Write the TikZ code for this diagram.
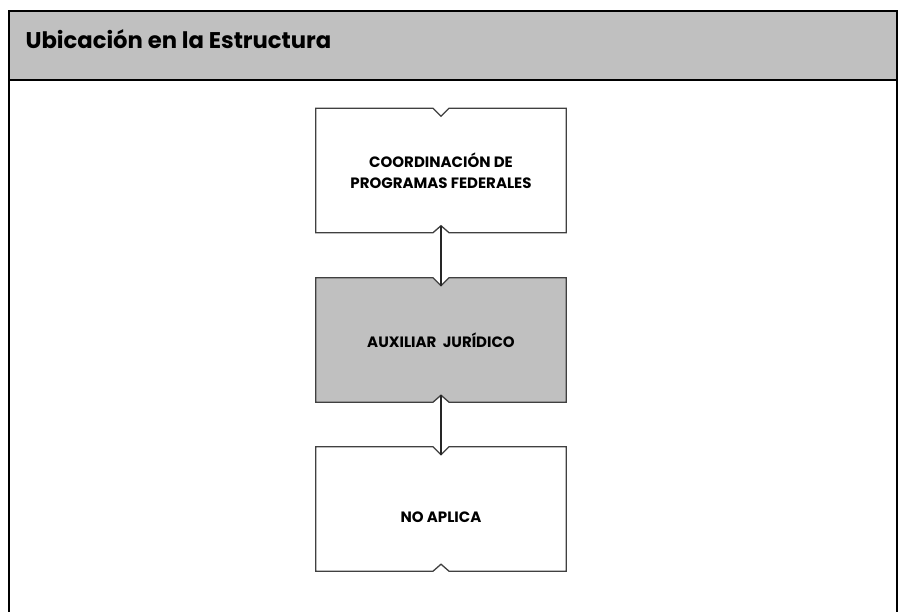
\documentclass[tikz,border=0pt]{standalone}
\usepackage{fontspec}
\setmainfont{Poppins}
\usepackage{tikz}

\definecolor{headgray}{HTML}{C0C0C0}
\definecolor{edgegray}{HTML}{404040}

\tikzset{
  box/.style={rectangle, minimum width=250pt, minimum height=124pt, inner sep=0pt,
    align=center, font=\fontsize{15}{21.5}\selectfont\bfseries},
  boxedge/.style={draw=edgegray, line width=1.3pt, line join=miter},
  link/.style={draw=black!85, line width=1.1pt}
}

% box outline with a notch on top and on bottom
\newcommand{\notchedbox}[2]{%
  \path[boxedge, fill=#2] (#1.north west) -- ([xshift=-8pt]#1.north)
    -- ([yshift=-8pt]#1.north) -- ([xshift=8pt]#1.north) -- (#1.north east)
    -- (#1.south east) -- ([xshift=8pt]#1.south) -- ([yshift=7pt]#1.south)
    -- ([xshift=-8pt]#1.south) -- (#1.south west) -- cycle;}

\begin{document}
\begin{tikzpicture}[x=1pt, y=-1pt]
  \useasboundingbox (0,0) rectangle (899,612);

  % frame and header
  \fill[headgray] (9,11) rectangle (897,80);
  \draw[line width=2pt] (9,80) -- (9,11) -- (897,11) -- (897,80);
  \draw[line width=2.5pt] (9,80) -- (897,80);
  \draw[line width=2.5pt] (9,80) -- (9,612);
  \draw[line width=1.5pt] (897,80) -- (897,612);
  \node[anchor=base west, font=\fontsize{22.7}{26}\selectfont\bfseries] (title) at (22,49)
    {Ubicación en la Estructura};

  % boxes
  \node[box] (coord) at (441,170.5) {};
  \node[box] (aux) at (441,340) {};
  \node[box] (noap) at (441,509) {};
  \notchedbox{coord}{white}
  \notchedbox{aux}{headgray}
  \notchedbox{noap}{white}
  \node[box] at (coord) {COORDINACIÓN DE\\PROGRAMAS FEDERALES};
  \node[box] at (aux) {AUXILIAR\ \ JURÍDICO};
  \node[box] at (noap) {\mbox{}\\[5pt]NO APLICA};

  % connectors
  \draw[link] ([yshift=7pt]coord.south) -- ([yshift=-8pt]aux.north);
  \draw[link] ([yshift=7pt]aux.south) -- ([yshift=-8pt]noap.north);
\end{tikzpicture}
\end{document}
